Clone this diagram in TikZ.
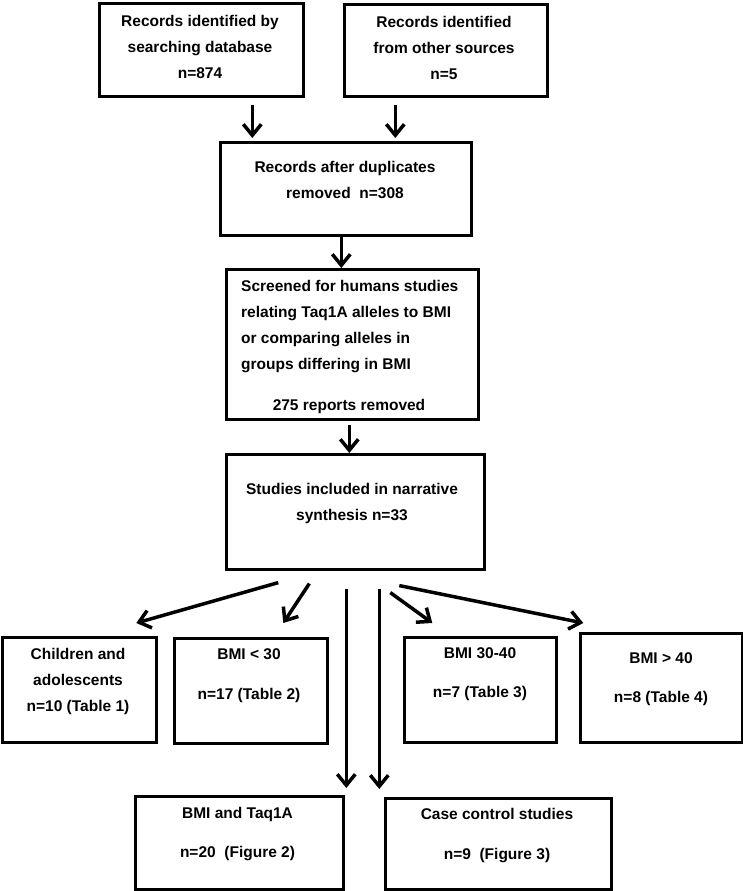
\documentclass[tikz,border=0pt]{standalone}
\usepackage{fontspec}
\setmainfont{Liberation Sans}
\usetikzlibrary{arrows.meta}

\tikzset{
	flowbox/.style={draw, line width=2.6pt, anchor=north west, inner sep=0pt},
	flowtext/.style={font=\fontsize{15.5}{26}\selectfont\bfseries, align=center, inner sep=0pt},
	flowarrow/.style={line width=3.5pt, -{Straight Barb[length=11pt,width=18pt]}}
}

\begin{document}
\begin{tikzpicture}[x=1pt, y=-1pt]
		\useasboundingbox (0,0) rectangle (743,891);
		
		% Identification
		\node[flowbox, minimum width=204pt, minimum height=93pt] (dbbox) at (98,2) {};
		\node[flowtext] (dbtext) at (200,46.5) {Records identified by\\searching database\\n=874};
		\node[flowbox, minimum width=203pt, minimum height=92pt] (othbox) at (343,3) {};
		\node[flowtext] (othtext) at (444,47.5) {Records identified\\from other sources\\n=5};
		
		% Screening
		\node[flowbox, minimum width=251pt, minimum height=93pt] (dupbox) at (219,141) {};
		\node[flowtext] (duptext) at (345,180) {Records after duplicates\\removed\ \ n=308};
		\node[flowbox, minimum width=252pt, minimum height=150pt] (scrbox) at (225,268) {};
		\node[flowtext, align=left, anchor=west] (scrtext) at (241,326.5) {Screened for humans studies\\relating Taq1A alleles to BMI\\or comparing alleles in\\groups differing in BMI};
		\node[flowtext] (remtext) at (349,406) {275 reports removed};
		
		% Included
		\node[flowbox, minimum width=258pt, minimum height=115pt] (incbox) at (225,453) {};
		\node[flowtext] (inctext) at (352,503.5) {Studies included in narrative\\synthesis n=33};
		
		% Groups
		\node[flowbox, minimum width=154pt, minimum height=105pt] (chbox) at (1,636) {};
		\node[flowtext] (chtext) at (78,681) {Children and\\adolescents\\n=10 (Table 1)};
		\node[flowbox, minimum width=153pt, minimum height=105pt] (lowbox) at (173,637) {};
		\node[flowtext] (lowtext) at (249,676) {BMI < 30\\[14pt]n=17 (Table 2)};
		\node[flowbox, minimum width=152pt, minimum height=105pt] (midbox) at (403,636) {};
		\node[flowtext] (midtext) at (480,674.5) {BMI 30-40\\[13pt]n=7 (Table 3)};
		\node[flowbox, minimum width=162pt, minimum height=109pt] (highbox) at (579,632) {};
		\node[flowtext] (hightext) at (661,679.5) {BMI > 40\\[13pt]n=8 (Table 4)};
		
		% Analyses
		\node[flowbox, minimum width=208pt, minimum height=93pt] (taqbox) at (134,795) {};
		\node[flowtext] (taqtext) at (237.5,834.5) {BMI and Taq1A\\[13pt]n=20\ \ (Figure 2)};
		\node[flowbox, minimum width=226pt, minimum height=91pt] (ccbox) at (384,797) {};
		\node[flowtext] (cctext) at (497,836) {Case control studies\\[14pt]n=9\ \ (Figure 3)};
		
		% Arrows
		\draw[flowarrow, shorten <=7pt, shorten >=3pt] ([xshift=51pt]dbbox.south) -- ([xshift=-93.5pt]dupbox.north);
		\draw[flowarrow, shorten <=7pt, shorten >=3pt] ([xshift=-50.5pt]othbox.south) -- ([xshift=49.5pt]dupbox.north);
		\draw[flowarrow] ([xshift=-4.5pt]dupbox.south) -- ([xshift=-11pt]scrbox.north);
		\draw[flowarrow, shorten <=4pt] ([xshift=-3pt]scrbox.south) -- ([xshift=-6pt]incbox.north);
		
		\draw[flowarrow] ([xshift=-77pt,yshift=-12pt]incbox.south) -- ([xshift=57pt,yshift=13pt]chbox.north);
		\draw[flowarrow] ([xshift=-46pt,yshift=-13pt]incbox.south) -- ([xshift=32.5pt,yshift=14pt]lowbox.north);
		\draw[flowarrow] ([xshift=-9pt,yshift=-18pt]incbox.south) -- ([xshift=107pt,yshift=7pt]taqbox.north);
		\draw[flowarrow] ([xshift=24pt,yshift=-18pt]incbox.south) -- ([xshift=-119pt,yshift=8pt]ccbox.north);
		\draw[flowarrow] ([xshift=35pt,yshift=-22pt]incbox.south) -- ([xshift=-48pt,yshift=13pt]midbox.north);
		\draw[flowarrow] ([xshift=44pt,yshift=-15pt]incbox.south) -- ([xshift=-78pt,yshift=9pt]highbox.north);
	\end{tikzpicture}
\end{document}
